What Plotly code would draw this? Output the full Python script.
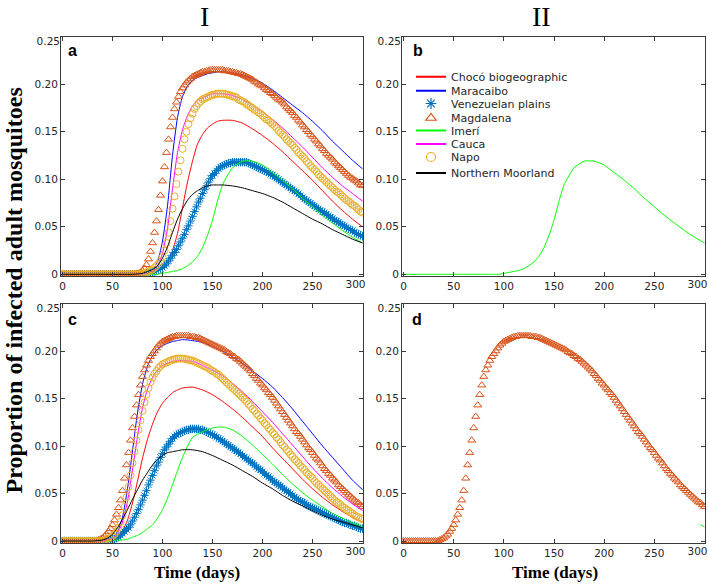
import plotly.graph_objects as go

# ---------------- data ----------------
x_ticks = [0, 50, 100, 150, 200, 250, 300]
x_ticktext = ["0", "50", "100", "150", "200", "250", "300"]
y_ticks = [0, 0.05, 0.10, 0.15, 0.20, 0.25]
y_ticktext = ["0", "0.05", "0.10", "0.15", "0.20", "0.25"]

legend_names = ["Chocó biogeographic", "Maracaibo", "Venezuelan plains", "Magdalena",
                "Imerí", "Cauca", "Napo", "Northern Moorland"]

# day grid of the marker series (every 2 days, 0..300)
days_fine = list(range(0, 301, 2))

# ---- scenario I, panel a ----
magdalena_a = [0, 0, 0, 0, 0, 0, 0, 0, 0, 0,
               0, 0, 0, 0, 0, 0, 0, 0, 0, 0,
               0, 0, 0, 0, 0, 0, 0, 0, 0, 0,
               0, 0, 0, 0, 0, 0,
               0.000, 0.001, 0.001, 0.002, 0.004,
               0.006, 0.010, 0.016, 0.024, 0.033, 0.044, 0.056, 0.068, 0.083, 0.098,
               0.113, 0.128, 0.142, 0.155, 0.165, 0.174, 0.181, 0.187, 0.192, 0.196,
               0.199, 0.202, 0.204, 0.206, 0.208, 0.209, 0.210, 0.211, 0.212, 0.213,
               0.213, 0.214, 0.214, 0.215, 0.215, 0.215, 0.215, 0.215, 0.215, 0.215,
               0.214, 0.214, 0.214, 0.213, 0.213,
               0.212, 0.212, 0.211, 0.211, 0.210, 0.209, 0.208, 0.207, 0.206, 0.205,
               0.203, 0.202, 0.200, 0.199, 0.198, 0.196, 0.194, 0.193, 0.191, 0.190,
               0.188, 0.186, 0.184, 0.183, 0.181, 0.179, 0.176, 0.174, 0.172, 0.170,
               0.167, 0.165, 0.162, 0.160, 0.157, 0.155, 0.152, 0.150, 0.147, 0.145,
               0.142, 0.140, 0.137, 0.135, 0.132, 0.130, 0.127, 0.125, 0.123, 0.121,
               0.118, 0.116, 0.114, 0.112, 0.110, 0.108, 0.106, 0.104, 0.102, 0.101,
               0.099, 0.098, 0.096, 0.094, 0.093]

napo_a = [0, 0, 0, 0, 0, 0, 0, 0, 0, 0,
          0, 0, 0, 0, 0, 0, 0, 0, 0, 0,
          0, 0, 0, 0, 0, 0, 0, 0, 0, 0,
          0, 0, 0, 0, 0, 0, 0, 0, 0, 0,
          0.001,
          0.001, 0.002, 0.003, 0.004, 0.005, 0.007, 0.009, 0.011, 0.014, 0.018,
          0.025, 0.033, 0.044, 0.056, 0.069, 0.082, 0.095, 0.108, 0.120, 0.132,
          0.142, 0.150, 0.158, 0.164, 0.169, 0.174, 0.177, 0.180, 0.182, 0.184,
          0.185, 0.186, 0.187, 0.188, 0.189, 0.189, 0.190, 0.190, 0.190, 0.190,
          0.190, 0.189, 0.189, 0.188, 0.187,
          0.187, 0.186, 0.184, 0.183, 0.182, 0.181, 0.179, 0.178, 0.176, 0.175,
          0.173, 0.172, 0.170, 0.169, 0.167, 0.165, 0.163, 0.162, 0.160, 0.158,
          0.156, 0.154, 0.151, 0.149, 0.147, 0.145, 0.142, 0.140, 0.138, 0.136,
          0.133, 0.131, 0.128, 0.126, 0.124, 0.122, 0.119, 0.117, 0.114, 0.112,
          0.110, 0.108, 0.105, 0.103, 0.101, 0.099, 0.097, 0.095, 0.093, 0.091,
          0.089, 0.087, 0.086, 0.084, 0.082, 0.080, 0.078, 0.077, 0.075, 0.073,
          0.072, 0.070, 0.068, 0.066, 0.065]

venezuelan_a = [0, 0, 0, 0, 0, 0, 0, 0, 0, 0,
                0, 0, 0, 0, 0, 0, 0, 0, 0, 0,
                0, 0, 0, 0, 0, 0, 0, 0, 0, 0,
                0, 0, 0, 0, 0, 0, 0, 0, 0, 0,
                0,
                0.000, 0.001, 0.001, 0.002, 0.002, 0.003, 0.004, 0.005, 0.006, 0.007,
                0.009, 0.011, 0.014, 0.017, 0.020, 0.023, 0.026, 0.030, 0.034, 0.038,
                0.042, 0.047, 0.051, 0.056, 0.061, 0.066, 0.071, 0.076, 0.080, 0.085,
                0.089, 0.093, 0.097, 0.101, 0.104, 0.106, 0.109, 0.111, 0.113, 0.114,
                0.115, 0.116, 0.117, 0.117, 0.118,
                0.118, 0.118, 0.118, 0.118, 0.118, 0.118, 0.118, 0.117, 0.116, 0.115,
                0.114, 0.113, 0.112, 0.111, 0.110, 0.109, 0.108, 0.107, 0.105, 0.104,
                0.103, 0.101, 0.100, 0.098, 0.097, 0.095, 0.094, 0.092, 0.091, 0.089,
                0.088, 0.086, 0.085, 0.083, 0.081, 0.079, 0.078, 0.076, 0.075, 0.073,
                0.072, 0.070, 0.069, 0.067, 0.066, 0.065, 0.063, 0.062, 0.060, 0.059,
                0.057, 0.056, 0.055, 0.053, 0.052, 0.051, 0.049, 0.048, 0.047, 0.046,
                0.044, 0.043, 0.042, 0.041, 0.040]

days_a = [0, 20, 40, 60, 70, 80, 85, 90, 95, 100, 105, 110, 115, 120, 125, 130, 135, 140, 145,
          150, 155, 160, 170, 180, 190, 200, 210, 220, 230, 240, 250, 260, 270, 280, 290, 300]

choco_a = [0, 0, 0, 0, 0, 0, 0.001, 0.001, 0.003, 0.006, 0.013, 0.025, 0.043, 0.070, 0.097,
           0.119, 0.137, 0.147, 0.154, 0.158, 0.161, 0.162, 0.162, 0.159, 0.153, 0.146, 0.138,
           0.129, 0.119, 0.109, 0.099, 0.088, 0.077, 0.067, 0.058, 0.050]
maracaibo_a = [0, 0, 0, 0, 0, 0, 0.002, 0.005, 0.013, 0.035, 0.072, 0.125, 0.165, 0.187, 0.198,
               0.204, 0.207, 0.209, 0.211, 0.212, 0.213, 0.213, 0.212, 0.210, 0.206, 0.201, 0.194,
               0.186, 0.178, 0.170, 0.161, 0.151, 0.140, 0.130, 0.120, 0.111]
cauca_a = [0, 0, 0, 0, 0, 0, 0.001, 0.003, 0.009, 0.022, 0.048, 0.090, 0.128, 0.152, 0.167,
           0.177, 0.183, 0.186, 0.188, 0.190, 0.190, 0.190, 0.188, 0.184, 0.178, 0.171, 0.163,
           0.154, 0.144, 0.134, 0.123, 0.112, 0.102, 0.093, 0.085, 0.077]
imeri_a = [0, 0, 0, 0, 0, 0, 0, 0, 0, 0.001, 0.002, 0.003, 0.004, 0.006, 0.009, 0.013, 0.019,
           0.028, 0.041, 0.057, 0.077, 0.094, 0.112, 0.119, 0.119, 0.115, 0.107, 0.099, 0.090,
           0.080, 0.071, 0.062, 0.054, 0.046, 0.039, 0.033]
moorland_a = [0, 0, 0, 0, 0, 0.001, 0.003, 0.005, 0.009, 0.017, 0.029, 0.044, 0.058, 0.069,
              0.078, 0.084, 0.088, 0.091, 0.093, 0.094, 0.094, 0.094, 0.093, 0.091, 0.088, 0.085,
              0.081, 0.076, 0.070, 0.064, 0.058, 0.053, 0.047, 0.042, 0.037, 0.033]

# ---- scenario I, panel c ----
magdalena_c = [0, 0, 0, 0, 0, 0, 0, 0, 0, 0,
               0, 0, 0, 0, 0, 0, 0, 0,
               0.001, 0.002, 0.003,
               0.005, 0.007, 0.010, 0.013, 0.017, 0.022, 0.028, 0.035, 0.043, 0.053,
               0.066, 0.080, 0.093, 0.106, 0.119, 0.131, 0.143, 0.154, 0.164, 0.173,
               0.180, 0.185, 0.190, 0.194, 0.197, 0.200, 0.203, 0.206, 0.208, 0.210,
               0.211, 0.212, 0.213, 0.214, 0.215, 0.215, 0.216, 0.216, 0.216, 0.216,
               0.216, 0.216, 0.216, 0.215, 0.215,
               0.215, 0.214, 0.214, 0.213, 0.212, 0.211, 0.210, 0.209, 0.208, 0.207,
               0.206, 0.205, 0.204, 0.203, 0.202, 0.201, 0.199, 0.198, 0.197, 0.195,
               0.194, 0.192, 0.191, 0.189, 0.187, 0.185, 0.183, 0.181, 0.179, 0.176,
               0.174, 0.171, 0.169, 0.166, 0.164, 0.161, 0.159, 0.156, 0.154, 0.151,
               0.148, 0.145, 0.142, 0.139, 0.136, 0.133, 0.130, 0.127, 0.124, 0.121,
               0.118, 0.115, 0.113, 0.110, 0.107, 0.104, 0.101, 0.098, 0.096, 0.093,
               0.090, 0.087, 0.085, 0.082, 0.079, 0.076, 0.074, 0.071, 0.069, 0.066,
               0.064, 0.062, 0.059, 0.057, 0.055, 0.053, 0.051, 0.049, 0.047, 0.045,
               0.043, 0.041, 0.040, 0.038, 0.036]

napo_c = [0, 0, 0, 0, 0, 0, 0, 0, 0, 0,
          0, 0, 0, 0, 0, 0, 0, 0, 0, 0,
          0,
          0.001, 0.002, 0.003, 0.004, 0.005, 0.007, 0.010, 0.014, 0.020, 0.027,
          0.036, 0.046, 0.057, 0.069, 0.082, 0.094, 0.106, 0.117, 0.127, 0.137,
          0.146, 0.154, 0.161, 0.167, 0.172, 0.176, 0.179, 0.182, 0.184, 0.186,
          0.187, 0.188, 0.189, 0.190, 0.191, 0.191, 0.192, 0.192, 0.192, 0.192,
          0.192, 0.191, 0.191, 0.190, 0.190,
          0.189, 0.188, 0.187, 0.186, 0.185, 0.184, 0.183, 0.182, 0.180, 0.179,
          0.178, 0.176, 0.175, 0.173, 0.171, 0.169, 0.167, 0.165, 0.163, 0.161,
          0.159, 0.157, 0.155, 0.153, 0.151, 0.149, 0.147, 0.144, 0.142, 0.139,
          0.137, 0.134, 0.132, 0.129, 0.127, 0.124, 0.122, 0.119, 0.117, 0.114,
          0.112, 0.109, 0.107, 0.104, 0.101, 0.099, 0.096, 0.094, 0.091, 0.089,
          0.086, 0.084, 0.082, 0.079, 0.077, 0.075, 0.072, 0.070, 0.068, 0.066,
          0.063, 0.061, 0.059, 0.057, 0.055, 0.053, 0.051, 0.049, 0.047, 0.045,
          0.043, 0.041, 0.040, 0.038, 0.036, 0.035, 0.033, 0.032, 0.030, 0.029,
          0.027, 0.026, 0.025, 0.024, 0.023]

venezuelan_c = [0, 0, 0, 0, 0, 0, 0, 0, 0, 0,
                0, 0, 0, 0, 0, 0, 0, 0, 0, 0,
                0,
                0.000, 0.001, 0.001, 0.001, 0.002, 0.002, 0.003, 0.004, 0.006, 0.008,
                0.010, 0.012, 0.014, 0.017, 0.021, 0.025, 0.029, 0.033, 0.038, 0.043,
                0.048, 0.053, 0.059, 0.064, 0.069, 0.074, 0.079, 0.083, 0.088, 0.092,
                0.096, 0.099, 0.102, 0.105, 0.108, 0.110, 0.112, 0.113, 0.114, 0.115,
                0.116, 0.117, 0.117, 0.118, 0.118,
                0.118, 0.118, 0.118, 0.117, 0.117, 0.116, 0.115, 0.114, 0.113, 0.112,
                0.111, 0.109, 0.108, 0.107, 0.105, 0.104, 0.102, 0.101, 0.099, 0.098,
                0.096, 0.095, 0.093, 0.092, 0.090, 0.088, 0.087, 0.085, 0.083, 0.082,
                0.080, 0.078, 0.076, 0.075, 0.073, 0.071, 0.069, 0.068, 0.066, 0.064,
                0.062, 0.061, 0.059, 0.058, 0.056, 0.054, 0.053, 0.051, 0.050, 0.048,
                0.046, 0.045, 0.043, 0.042, 0.041, 0.040, 0.038, 0.037, 0.036, 0.035,
                0.034, 0.033, 0.032, 0.031, 0.030, 0.029, 0.028, 0.027, 0.026, 0.025,
                0.024, 0.023, 0.022, 0.021, 0.020, 0.019, 0.019, 0.018, 0.017, 0.016,
                0.016, 0.015, 0.014, 0.013, 0.013]

days_c = [0, 20, 30, 40, 45, 50, 55, 60, 65, 70, 75, 80, 85, 90, 95, 100, 105, 110, 115, 120,
          130, 140, 150, 160, 170, 180, 190, 200, 210, 220, 230, 240, 250, 260, 270, 280, 290,
          296, 300]

choco_c = [0, 0, 0, 0, 0.001, 0.002, 0.005, 0.011, 0.022, 0.040, 0.063, 0.087, 0.107, 0.123,
           0.136, 0.145, 0.151, 0.156, 0.159, 0.161, 0.162, 0.159, 0.154, 0.147, 0.139, 0.130,
           0.120, 0.110, 0.098, 0.087, 0.076, 0.065, 0.055, 0.046, 0.038, 0.031, 0.025, 0.022,
           0.020]
maracaibo_c = [0, 0, 0, 0, 0.001, 0.003, 0.010, 0.025, 0.055, 0.095, 0.135, 0.165, 0.184, 0.195,
               0.202, 0.206, 0.208, 0.210, 0.211, 0.212, 0.211, 0.209, 0.205, 0.200, 0.194, 0.187,
               0.179, 0.171, 0.162, 0.151, 0.139, 0.126, 0.113, 0.100, 0.088, 0.076, 0.064, 0.058,
               0.054]
cauca_c = [0, 0, 0, 0, 0.001, 0.003, 0.008, 0.020, 0.042, 0.075, 0.110, 0.140, 0.160, 0.172,
           0.180, 0.185, 0.187, 0.189, 0.190, 0.190, 0.189, 0.185, 0.180, 0.174, 0.166, 0.157,
           0.147, 0.136, 0.125, 0.113, 0.101, 0.089, 0.077, 0.066, 0.056, 0.047, 0.039, 0.035,
           0.032]
imeri_c = [0, 0, 0, 0, 0, 0, 0.001, 0.001, 0.002, 0.004, 0.006, 0.009, 0.013, 0.017, 0.024,
           0.033, 0.045, 0.059, 0.074, 0.088, 0.109, 0.115, 0.119, 0.120, 0.117, 0.110, 0.101,
           0.091, 0.081, 0.070, 0.060, 0.051, 0.043, 0.036, 0.029, 0.024, 0.019, 0.017, 0.015]
moorland_c = [0, 0, 0, 0.001, 0.003, 0.007, 0.014, 0.023, 0.033, 0.044, 0.054, 0.064, 0.072,
              0.080, 0.086, 0.090, 0.093, 0.094, 0.095, 0.096, 0.096, 0.094, 0.090, 0.085, 0.080,
              0.074, 0.068, 0.061, 0.055, 0.048, 0.042, 0.037, 0.032, 0.027, 0.023, 0.020, 0.017,
              0.015, 0.014]

for arr in (magdalena_a, napo_a, venezuelan_a, magdalena_c, napo_c, venezuelan_c):
    assert len(arr) == len(days_fine), len(arr)
for arr in (choco_a, maracaibo_a, cauca_a, imeri_a, moorland_a):
    assert len(arr) == len(days_a), len(arr)
for arr in (choco_c, maracaibo_c, cauca_c, imeri_c, moorland_c):
    assert len(arr) == len(days_c), len(arr)

# ---------------- styling ----------------
W, H = 708, 585
C_RED, C_BLUE, C_GREEN, C_MAG, C_BLACK = "#FF0000", "#0000FF", "#00FF00", "#FF00FF", "#000000"
C_AST, C_TRI, C_CIR = "#0072BD", "#D95319", "#EDB120"
AX = "#3a3a3a"
TICKFONT = dict(family="DejaVu Sans", size=10.5, color="#262626")
XRANGE = [-1.5, 300.5]
YRANGE = [-0.0021, 0.25]

series_style = [  # (mode, color, symbol) in legend order
    ("lines", C_RED, None), ("lines", C_BLUE, None), ("markers", C_AST, "asterisk-open"),
    ("markers", C_TRI, "triangle-up-open"), ("lines", C_GREEN, None), ("lines", C_MAG, None),
    ("markers", C_CIR, "circle-open"), ("lines", C_BLACK, None)]
# vertical centre (px from top) of each legend row, as in the reference
legend_rows = [76.7, 90.7, 103.5, 118, 130.5, 144, 157, 173]

fig = go.Figure()

# legend entries (no data of their own; they only carry the legend styling),
# one small legend per row so the row spacing can follow the reference
legend_ids = ["legend"] + ["legend%d" % i for i in range(2, 9)]
for name, (mode, color, symbol), lid in zip(legend_names, series_style, legend_ids):
    if mode == "lines":
        fig.add_trace(go.Scatter(x=[None], y=[None], name=name, mode="lines", legend=lid,
                                 line=dict(color=color, width=2), xaxis="x", yaxis="y",
                                 hoverinfo="skip"))
    else:
        fig.add_trace(go.Scatter(x=[None], y=[None], name=name, mode="markers", legend=lid,
                                 marker=dict(symbol=symbol, size=9, color=color,
                                             line=dict(color=color, width=1.2)),
                                 xaxis="x", yaxis="y", hoverinfo="skip"))


def add_line(x, y, color, xa, ya):
    fig.add_trace(go.Scatter(
        x=x, y=y, mode="lines", xaxis=xa, yaxis=ya, showlegend=False,
        line=dict(color=color, width=1, shape="spline", smoothing=0.6), hoverinfo="skip"))


def add_markers(x, y, color, symbol, xa, ya):
    fig.add_trace(go.Scatter(
        x=x, y=y, mode="markers", xaxis=xa, yaxis=ya, showlegend=False,
        marker=dict(symbol=symbol, size=7, color=color, line=dict(color=color, width=1)),
        hoverinfo="skip"))


def add_panel(xa, ya, line_days, choco, mara, venez, magda, imeri, cauca, napo, moor):
    add_line(line_days, choco, C_RED, xa, ya)
    add_line(line_days, mara, C_BLUE, xa, ya)
    add_markers(days_fine, venez, C_AST, "asterisk-open", xa, ya)
    add_markers(days_fine, magda, C_TRI, "triangle-up-open", xa, ya)
    add_line(line_days, imeri, C_GREEN, xa, ya)
    add_line(line_days, cauca, C_MAG, xa, ya)
    add_markers(days_fine, napo, C_CIR, "circle-open", xa, ya)
    add_line(line_days, moor, C_BLACK, xa, ya)


# panel a
add_panel("x", "y", days_a, choco_a, maracaibo_a, venezuelan_a,
          magdalena_a, imeri_a, cauca_a, napo_a, moorland_a)
# panel b : Imerí only
add_line(days_a, imeri_a, C_GREEN, "x2", "y2")
# panel c
add_panel("x3", "y3", days_c, choco_c, maracaibo_c, venezuelan_c,
          magdalena_c, imeri_c, cauca_c, napo_c, moorland_c)
# panel d : Magdalena (and the tail of Imerí at the right edge)
add_markers(days_fine, magdalena_c, C_TRI, "triangle-up-open", "x4", "y4")
tail_days = [d for d in days_c if d >= 296]
tail_vals = [v for d, v in zip(days_c, imeri_c) if d >= 296]
add_line(tail_days, tail_vals, C_GREEN, "x4", "y4")

# empty traces so the label-only overlay axes get drawn
for xa, ya in [("x5", "y"), ("x6", "y2"), ("x7", "y3"), ("x8", "y4"),
               ("x", "y5"), ("x2", "y6"), ("x3", "y7"), ("x4", "y8")]:
    fig.add_trace(go.Scatter(x=[None], y=[None], mode="lines", xaxis=xa, yaxis=ya,
                             showlegend=False, hoverinfo="skip"))

xdom_left = [61 / W, 363 / W]
xdom_right = [402 / W, 705 / W]
ydom_top = [1 - 276.3 / H, 1 - 36.7 / H]
ydom_bot = [1 - 543 / H, 1 - 303.5 / H]

# main axes carry all ticks; the edge labels ("300", "0.25") sit on label-only overlay
# axes so they can be nudged inwards as in the reference
x_ticktext_main = x_ticktext[:-1] + [""]
y_ticktext_main = y_ticktext[:-1] + [""]


def xaxis(dom, anchor):
    return dict(domain=dom, anchor=anchor, range=XRANGE, tickvals=x_ticks,
                ticktext=x_ticktext_main, ticks="inside", ticklen=4, tickwidth=1, tickcolor=AX,
                showline=True, linecolor=AX, linewidth=1, mirror="ticks", showgrid=False,
                zeroline=False, tickfont=TICKFONT)


def yaxis(dom, anchor):
    return dict(domain=dom, anchor=anchor, range=YRANGE, tickvals=y_ticks,
                ticktext=y_ticktext_main, ticks="inside", ticklen=4, tickwidth=1, tickcolor=AX,
                showline=True, linecolor=AX, linewidth=1, mirror="ticks", showgrid=False,
                zeroline=False, tickfont=TICKFONT)


def xlabel_axis(over, anchor):
    return dict(overlaying=over, anchor=anchor, side="bottom", range=XRANGE,
                tickvals=x_ticks[-1:], ticktext=x_ticktext[-1:], ticks="", showline=False,
                showgrid=False, zeroline=False, tickfont=TICKFONT, ticklabelshift=-7)


def ylabel_axis(over, anchor):
    return dict(overlaying=over, anchor=anchor, side="left", range=YRANGE,
                tickvals=y_ticks[-1:], ticktext=y_ticktext[-1:], ticks="", showline=False,
                showgrid=False, zeroline=False, tickfont=TICKFONT, ticklabelshift=5)


annotations = [
    dict(text="I", x=204 / W, y=1 - 16 / H, xanchor="center", yanchor="middle",
         xref="paper", yref="paper", showarrow=False,
         font=dict(family="Liberation Serif", size=28, color="#000000")),
    dict(text="II", x=541 / W, y=1 - 16 / H, xanchor="center", yanchor="middle",
         xref="paper", yref="paper", showarrow=False,
         font=dict(family="Liberation Serif", size=28, color="#000000")),
    dict(text="Proportion of infected adult mosquitoes", x=13.5 / W, y=1 - 291 / H,
         xanchor="center", yanchor="middle", xref="paper", yref="paper", showarrow=False,
         textangle=-90,
         font=dict(family="Liberation Serif", size=24, color="#000000", weight="bold")),
    dict(text="Time (days)", x=197 / W, y=1 - 572.5 / H, xanchor="center", yanchor="middle",
         xref="paper", yref="paper", showarrow=False,
         font=dict(family="Liberation Serif", size=17, color="#000000", weight="bold")),
    dict(text="Time (days)", x=555 / W, y=1 - 572.5 / H, xanchor="center", yanchor="middle",
         xref="paper", yref="paper", showarrow=False,
         font=dict(family="Liberation Serif", size=17, color="#000000", weight="bold")),
]
for lab, px, py in [("a", 65.5, 50.5), ("b", 411, 50.5), ("c", 66, 319.5), ("d", 410, 319.5)]:
    annotations.append(dict(text=lab, x=px / W, y=1 - py / H, xref="paper", yref="paper",
                            xanchor="left", yanchor="middle", showarrow=False,
                            font=dict(family="Liberation Sans", size=16, color="#000000",
                                      weight="bold")))

legend_layout = {}
for lid, row in zip(legend_ids, legend_rows):
    legend_layout[lid] = dict(x=411 / W, y=1 - row / H, xanchor="left", yanchor="middle",
                              bgcolor="rgba(0,0,0,0)", borderwidth=0, itemwidth=30,
                              tracegroupgap=0,
                              font=dict(family="DejaVu Sans", size=11, color="#262626"))

fig.update_layout(
    width=W, height=H, margin=dict(l=0, r=0, t=0, b=0, autoexpand=False),
    paper_bgcolor="white", plot_bgcolor="white",
    xaxis=xaxis(xdom_left, "y"), yaxis=yaxis(ydom_top, "x"),
    xaxis2=xaxis(xdom_right, "y2"), yaxis2=yaxis(ydom_top, "x2"),
    xaxis3=xaxis(xdom_left, "y3"), yaxis3=yaxis(ydom_bot, "x3"),
    xaxis4=xaxis(xdom_right, "y4"), yaxis4=yaxis(ydom_bot, "x4"),
    xaxis5=xlabel_axis("x", "y"), xaxis6=xlabel_axis("x2", "y2"),
    xaxis7=xlabel_axis("x3", "y3"), xaxis8=xlabel_axis("x4", "y4"),
    yaxis5=ylabel_axis("y", "x"), yaxis6=ylabel_axis("y2", "x2"),
    yaxis7=ylabel_axis("y3", "x3"), yaxis8=ylabel_axis("y4", "x4"),
    annotations=annotations,
    showlegend=True,
    **legend_layout,
)

fig.write_html("out.html", config={"displayModeBar": False},
               post_script="document.body.style.margin='0';")
